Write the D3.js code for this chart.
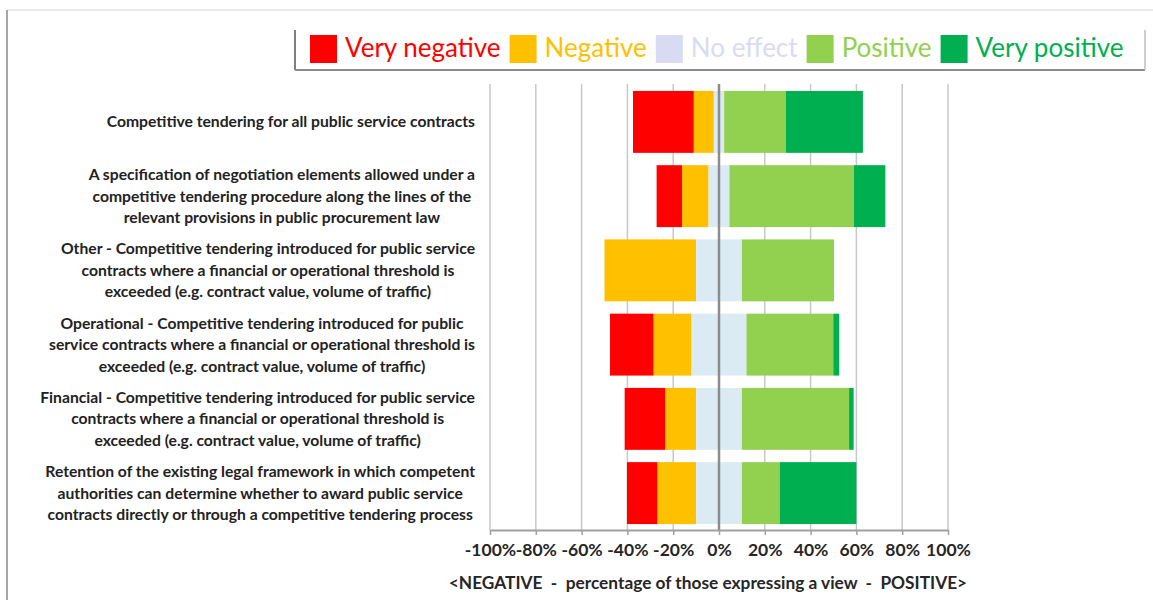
<!DOCTYPE html>
<html>
<head>
<meta charset="utf-8">
<script src="https://cdn.jsdelivr.net/npm/d3@7"></script>
<style>
  body { margin: 0; background: #fff; }
  svg { display: block; font-family: Lato, "Open Sans", sans-serif; }
</style>
</head>
<body>
<div class="vis-divergent"></div>
<script>
// categories (one entry per bar, lines as shown in the picture)
const categories = [
    ["Competitive tendering for all public service contracts"],
    ["A specification of negotiation elements allowed under a",
     "competitive tendering procedure along the lines of the",
     "relevant provisions in public procurement law"],
    ["Other - Competitive tendering introduced for public service",
     "contracts where a financial or operational threshold is",
     "exceeded (e.g. contract value, volume of traffic)"],
    ["Operational - Competitive tendering introduced for public",
     "service contracts where a financial or operational threshold is",
     "exceeded (e.g. contract value, volume of traffic)"],
    ["Financial - Competitive tendering introduced for public service",
     "contracts where a financial or operational threshold is",
     "exceeded (e.g. contract value, volume of traffic)"],
    ["Retention of the existing legal framework in which competent",
     "authorities can determine whether to award public service",
     "contracts directly or through a competitive tendering process"]
];

// series values, % of those expressing a view
const veryNegative = [26.5, 11.1, 0, 19.0, 17.7, 13.3];
const negative     = [8.8, 11.6, 40.0, 16.6, 13.5, 16.9];
const noEffect     = [4.5, 9.1, 20.0, 24.0, 20.0, 20.0];
const positive     = [27.0, 54.4, 40.2, 37.9, 46.8, 16.5];
const veryPositive = [33.6, 13.7, 0, 2.6, 2.0, 33.5];

const seriesNames = ["Very negative", "Negative", "No effect", "Positive", "Very positive"];
const xTicks = [-100, -80, -60, -40, -20, 0, 20, 40, 60, 80, 100];
const axisTitle = "<NEGATIVE  -  percentage of those expressing a view  -  POSITIVE>";

const colors = ["#ff0000", "#ffc000", "#daebf4", "#92d050", "#00b050"];
const legendColors = ["#ff0000", "#ffc000", "#d9dbf2", "#92d050", "#00b050"];

const W = 1153, H = 600;
const svg = d3.select(".vis-divergent").append("svg")
    .attr("width", W).attr("height", H);

// outer frame
svg.append("line").attr("x1", 7).attr("x2", W).attr("y1", 10).attr("y2", 10)
    .attr("stroke", "#d4d4d4").attr("stroke-width", 1);
svg.append("line").attr("x1", 7).attr("x2", 7).attr("y1", 10).attr("y2", H)
    .attr("stroke", "#a6a6a6").attr("stroke-width", 2);

const x = d3.scaleLinear().domain([-100, 100]).range([490, 948]);
const y = d3.scaleBand().domain(d3.range(categories.length))
    .range([85, 530]).paddingInner(0.166).paddingOuter(0.08);

// gridlines
svg.append("g").selectAll("line").data(xTicks.filter(t => t !== 0)).join("line")
    .attr("x1", d => x(d)).attr("x2", d => x(d))
    .attr("y1", 84).attr("y2", 530)
    .attr("stroke", "#c8c8c8").attr("stroke-width", 1.5);

// build segments: negatives stack leftwards, no effect straddles zero
const rows = categories.map((c, i) => {
    const vals = [veryNegative[i], negative[i], noEffect[i], positive[i], veryPositive[i]];
    const half = vals[2] / 2;
    const segs = [];
    let left = -half;
    segs.push({ s: 1, x0: left - vals[1], x1: left });
    segs.push({ s: 0, x0: left - vals[1] - vals[0], x1: left - vals[1] });
    segs.push({ s: 2, x0: -half, x1: half });
    let right = half;
    segs.push({ s: 3, x0: right, x1: right + vals[3] });
    segs.push({ s: 4, x0: right + vals[3], x1: right + vals[3] + vals[4] });
    return { i, segs: segs.filter(d => d.x1 - d.x0 > 0) };
});

svg.append("g").selectAll("g").data(rows).join("g")
    .attr("transform", d => `translate(0,${y(d.i)})`)
    .selectAll("rect").data(d => d.segs).join("rect")
    .attr("x", d => x(d.x0))
    .attr("width", d => x(d.x1) - x(d.x0))
    .attr("height", y.bandwidth())
    .attr("fill", d => colors[d.s]);

// zero line
svg.append("line").attr("x1", x(0)).attr("x2", x(0)).attr("y1", 84).attr("y2", 530)
    .attr("stroke", "#8c8c8c").attr("stroke-width", 2.5);

// x axis
const xAxis = svg.append("g")
    .attr("transform", "translate(0,530)")
    .call(d3.axisBottom(x).tickValues(xTicks).tickFormat(d => d + "%").tickSize(5).tickSizeOuter(0));
xAxis.select(".domain").attr("stroke", "#a0a0a0").attr("stroke-width", 2);
xAxis.selectAll(".tick line").attr("stroke", "#a0a0a0").attr("stroke-width", 1.5);
xAxis.selectAll(".tick text")
    .attr("y", 26).attr("dy", "0")
    .style("font-family", "Lato, sans-serif")
    .style("font-size", "17.5px").style("font-weight", "bold").attr("fill", "#262626");

svg.append("text")
    .attr("x", 708).attr("y", 589)
    .attr("text-anchor", "middle")
    .style("font-size", "17.3px").style("font-weight", "bold")
    .style("white-space", "pre")
    .attr("fill", "#262626")
    .text(axisTitle);

// category labels: lines centred within block, block right-aligned at 475
const labelG = svg.append("g");
categories.forEach((lines, i) => {
    const cy = y(i) + y.bandwidth() / 2;
    const lh = 21.5;
    const t = labelG.append("text")
        .style("font-size", "15.7px").style("font-weight", "bold")
        .attr("fill", "#222")
        .attr("text-anchor", "middle");
    lines.forEach((ln, k) => {
        t.append("tspan").attr("x", 0)
            .attr("y", cy + (k - (lines.length - 1) / 2) * lh)
            .attr("dy", "0.35em").text(ln);
    });
    let maxW = 0;
    t.selectAll("tspan").each(function () { maxW = Math.max(maxW, this.getComputedTextLength()); });
    t.attr("transform", `translate(${475 - maxW / 2},0)`);
});

// legend
const legend = svg.append("g");
legend.append("line").attr("x1", 295).attr("x2", 295).attr("y1", 30).attr("y2", 70)
    .attr("stroke", "#7f7f7f").attr("stroke-width", 2);
legend.append("line").attr("x1", 295).attr("x2", 1145).attr("y1", 70).attr("y2", 70)
    .attr("stroke", "#8c8c8c").attr("stroke-width", 2);
legend.append("line").attr("x1", 1145).attr("x2", 1145).attr("y1", 30).attr("y2", 70)
    .attr("stroke", "#bfbfbf").attr("stroke-width", 1.5);

let lx = 310;
seriesNames.forEach((name, i) => {
    legend.append("rect")
        .attr("x", lx).attr("y", 35).attr("width", 27).attr("height", 28)
        .attr("fill", legendColors[i]);
    const txt = legend.append("text")
        .attr("x", lx + 35).attr("y", 57)
        .style("font-size", "26px")
        .attr("fill", legendColors[i])
        .text(name);
    lx += 35 + txt.node().getComputedTextLength() + 9;
});
</script>
</body>
</html>
